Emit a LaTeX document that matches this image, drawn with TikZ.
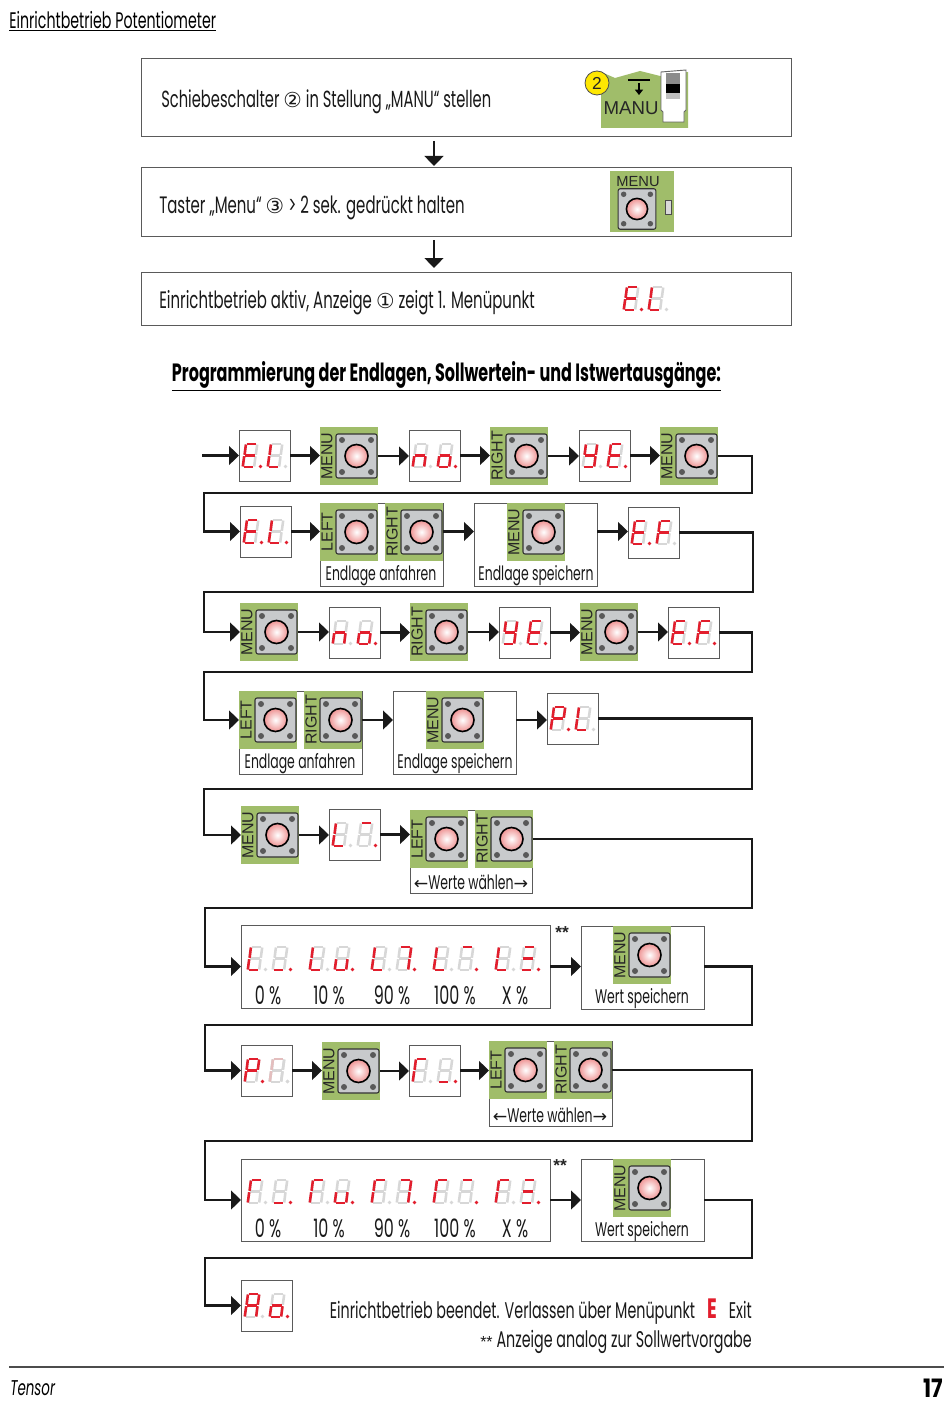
\documentclass[tikz,border=0pt]{standalone}
\usepackage{fontspec}
\setmainfont[FakeStretch=0.63,AutoFakeBold=0.5]{Poppins}[BoldFont={*}]
\newfontfamily\headf[FakeStretch=0.64]{Poppins}
\newfontfamily\pagef[FakeStretch=0.85]{Poppins}
\newfontfamily\arialf{Liberation Sans}
\newfontfamily\symf{DejaVu Sans}
\usetikzlibrary{arrows.meta}
\definecolor{pcbgreen}{RGB}{160,189,106}
\definecolor{btngray}{RGB}{200,202,204}
\definecolor{segred}{RGB}{226,30,45}
\definecolor{segpale}{RGB}{228,190,190}
\definecolor{seggray}{RGB}{215,215,215}
\definecolor{framecol}{RGB}{90,90,90}
\definecolor{ledpink}{RGB}{232,105,105}
\tikzset{
  x=0.75pt,y=-0.75pt,
  framebox/.style={draw=framecol,line width=0.75pt,fill=white,inner sep=0pt,outer sep=0pt},
  greenbox/.style={fill=pcbgreen,inner sep=0pt,outer sep=0pt,minimum width=43.5pt,minimum height=43.5pt},
  conn/.style={draw=black!90,line width=1.9pt,-{Triangle[length=7.5pt,width=14pt]}},
  segstroke/.style={draw=seggray},
  capt/.style={font=\fontsize{14.8pt}{18pt}\selectfont,inner sep=0pt,text=black!90,yshift=-1.5pt},
  pct/.style={font=\fontsize{19pt}{22pt}\selectfont,inner sep=0pt,text=black!90,yshift=-1pt},
  bodytxt/.style={font=\fontsize{17.5pt}{20pt}\selectfont,inner sep=0pt,anchor=west,text=black!90,yshift=-2pt},
  lab/.style={font=\arialf\fontsize{12pt}{14pt}\selectfont,inner sep=0pt,text=black!85}
}
\newcommand\circsym[1]{{\symf\fontsize{15.5pt}{15pt}\selectfont #1}}
\newcommand\arrsym[1]{{\symf\fontsize{13pt}{15pt}\selectfont #1}}
% seven segments, one full draw command per segment
\newcommand\segA{\path[segstroke] (3.7,-23) -- (13.3,-23);}
\newcommand\segB{\path[segstroke] (14.2,-22.5) -- (12.8,-12.2);}
\newcommand\segC{\path[segstroke] (12.5,-10.8) -- (11.2,-0.5);}
\newcommand\segD{\path[segstroke] (0.7,0) -- (10.3,0);}
\newcommand\segE{\path[segstroke] (-0.2,-0.5) -- (1.2,-10.8);}
\newcommand\segF{\path[segstroke] (1.6,-12.2) -- (2.9,-22.5);}
\newcommand\segG{\path[segstroke] (2.2,-11.5) -- (11.8,-11.5);}
\newcommand\segN{}
\newcommand\segoncol{segred}
\newcommand\onedigit[4]{%
  \begin{scope}[shift={(#1,#2)},line width=1.9pt]
    \segA\segB\segC\segD\segE\segF\segG
    \tikzset{segstroke/.style={draw=\segoncol}}
    \foreach \s in {#3}{\csname seg\s\endcsname}
    \fill[#4] (17.5,-0.5) circle[radius=1.9];
  \end{scope}}
% x, baseline y, segments first digit, first dot, segments second digit, second dot
\newcommand\disp[6]{\onedigit{#1}{#2}{#3}{#4}\onedigit{\numexpr#1+25\relax}{#2}{#5}{#6}}
% named frame from two corners
\newcommand\frm[5]{%
  \pgfmathsetmacro\wdt{(#4-#2)*0.75}\pgfmathsetmacro\hgt{(#5-#3)*0.75}%
  \node[framebox,minimum width=\wdt pt,minimum height=\hgt pt] (#1) at ({(#2+#4)/2},{(#3+#5)/2}) {};}
% display in own frame
\newcommand\dispbox[8]{\frm{#1}{#2}{#3}{\numexpr#2+51\relax}{\numexpr#3+51\relax}%
  \disp{\numexpr#2+4\relax}{\numexpr#3+37\relax}{#4}{#5}{#6}{#7}}
% push button graphic, centre
\newcommand\pushbtn[2]{%
  \fill[btngray,draw=black!80,line width=0.8pt,rounded corners=1.5pt] (#1-20.5,#2-22) rectangle (#1+20.5,#2+22);
  \foreach \dx/\dy in {-14.5/-16,14.5/-16,-14.5/16,14.5/16}
    \fill[black!65] (#1+\dx,#2+\dy) circle[radius=3];
  \begin{scope}
    \clip (#1,#2) circle[radius=11];
    \shade[inner color=white,outer color=ledpink] (#1,#2) circle[radius=16];
  \end{scope}
  \draw[black,line width=1.2pt] (#1,#2) circle[radius=11.5];}
% green tile: name, left, top, label
\newcommand\btn[4]{%
  \node[greenbox] (#1) at (#2+29,#3+29) {};
  \node[lab,rotate=90] at (#2+7,#3+29) {#4};
  \pushbtn{#2+36.5}{#3+29}}
\begin{document}
\begin{tikzpicture}
\useasboundingbox[fill=white] (0,0) rectangle (950,1402);

% page header
\node[font=\fontsize{16.9pt}{20pt}\selectfont,anchor=west,inner sep=0pt,yshift=-0.8pt] (title) at (9,20) {\underline{Einrichtbetrieb Potentiometer}};

% intro boxes
\frm{top1}{141}{59}{791}{137}
\node[bodytxt] (t1) at (161,99) {Schiebeschalter \circsym{②} in Stellung „MANU“ stellen};
\fill[pcbgreen] (601,128) -- (601,72) -- (615,78) -- (640,71) -- (660,76) -- (688,72) -- (688,128) -- cycle;
\fill[yellow!90!orange,draw=black!70,line width=0.6pt] (597,83) circle[radius=12];
\node[lab,font=\arialf\fontsize{13pt}{15pt}\selectfont] at (597,83) {2};
\node[lab,font=\arialf\fontsize{14pt}{16pt}\selectfont] at (631,108) {MANU};
\draw[black,line width=0.8pt] (628,80) -- (650,80);
\draw[black,line width=1.4pt,-{Triangle[length=4pt,width=6pt]}] (639,83) -- (639,95);
\fill[white,draw=black!60,line width=0.7pt] (661,72) -- (686,70) -- (686,110) -- (684,112) -- (684,122) -- (663,122) -- (663,112) -- (661,110) -- cycle;
\fill[black!45] (666,73) rectangle (680,84);
\fill[black] (666,84) rectangle (680,93);
\fill[black!25] (666,93) rectangle (680,99);

\frm{top2}{141}{168}{791}{236}
\node[bodytxt,font=\fontsize{17.8pt}{20pt}\selectfont] (t2) at (159,205) {Taster „Menu“ \circsym{③} > 2 sek. gedrückt halten};
\fill[pcbgreen] (610,171) rectangle (674,232);
\node[lab,font=\arialf\fontsize{11pt}{13pt}\selectfont] at (638,182) {MENU};
\begin{scope}[shift={(637,209)},scale=0.92]
\pushbtn{0}{0}
\end{scope}
\fill[black!15,draw=black!70,line width=0.6pt] (665,200) rectangle (671,214);

\frm{top3}{141}{272}{791}{325}
\node[bodytxt,font=\fontsize{17.8pt}{20pt}\selectfont] (t3) at (159,300) {Einrichtbetrieb aktiv, Anzeige \circsym{①} zeigt 1. Menüpunkt};
\disp{624}{310}{A,D,E,F,G}{segred}{D,E,F}{seggray}

\coordinate (va) at (434,141); \coordinate (vb) at (434,166);
\coordinate (vc) at (434,240); \coordinate (vd) at (434,268);
\draw[conn] (va) -- (vb);
\draw[conn] (vc) -- (vd);

\node[font=\headf\bfseries\fontsize{18.75pt}{20pt}\selectfont,inner sep=0pt,yshift=-2.5pt] (head) at (446.5,373) {\underline{Programmierung der Endlagen, Sollwertein- und Istwertausgänge:}};

% row 1
\coordinate (start) at (202,455.5);
\dispbox{a1}{239}{430}{A,D,E,F,G}{segred}{D,E,F}{seggray}{}
\btn{a2}{320}{427}{MENU}
\dispbox{a3}{409}{430}{C,E,G}{seggray}{C,D,E,G}{segred}{}
\btn{a4}{490}{427}{RIGHT}
\dispbox{a5}{579}{430}{B,C,D,F,G}{seggray}{A,D,E,F,G}{segred}{}
\btn{a6}{660}{427}{MENU}
\coordinate (ra) at (752,493); \coordinate (la) at (204,493);
\draw[conn] (start) -- (a1.west);
\draw[conn] (a1.east) -- (a1.east -| a2.west);
\draw[conn] (a2.east) -- (a2.east -| a3.west);
\draw[conn] (a3.east) -- (a3.east -| a4.west);
\draw[conn] (a4.east) -- (a4.east -| a5.west);
\draw[conn] (a5.east) -- (a5.east -| a6.west);

% row 2
\dispbox{b1}{240}{506}{A,D,E,F,G}{segred}{D,E,F}{segred}{}
\frm{b2}{320}{503}{443}{586}
\btn{b2l}{320}{503}{LEFT}
\btn{b2r}{385}{503}{RIGHT}
\node[capt] (b2t) at (381,574) {Endlage anfahren};
\frm{b3}{474}{503}{597}{586}
\btn{b3m}{507}{503}{MENU}
\node[capt] (b3t) at (536,574) {Endlage speichern};
\dispbox{b4}{628}{507}{A,D,E,F,G}{segred}{A,E,F,G}{seggray}{}
\draw[conn] (a6.east) -| (ra) -- (la) |- (b1.west);
\draw[conn] (b1.east) -- (b1.east -| b2.west);
\draw[conn] (b2.east |- b1.east) -- (b1.east -| b3.west);
\draw[conn] (b3.east |- b1.east) -- (b1.east -| b4.west);

% row 3
\btn{c1}{240}{603}{MENU}
\dispbox{c2}{329}{607}{C,E,G}{seggray}{C,D,E,G}{segred}{}
\btn{c3}{410}{603}{RIGHT}
\dispbox{c4}{499}{607}{B,C,D,F,G}{seggray}{A,D,E,F,G}{segred}{}
\btn{c5}{580}{603}{MENU}
\dispbox{c6}{668}{607}{A,D,E,F,G}{segred}{A,E,F,G}{segred}{}
\coordinate (rb) at (753,592); \coordinate (lb) at (204,592);
\draw[conn] (b4.east) -| (rb) -- (lb) |- (c1.west);
\draw[conn] (c1.east) -- (c1.east -| c2.west);
\draw[conn] (c2.east) -- (c2.east -| c3.west);
\draw[conn] (c3.east) -- (c3.east -| c4.west);
\draw[conn] (c4.east) -- (c4.east -| c5.west);
\draw[conn] (c5.east) -- (c5.east -| c6.west);

% row 4
\frm{d1}{239}{691}{362}{774}
\btn{d1l}{239}{691}{LEFT}
\btn{d1r}{304}{691}{RIGHT}
\node[capt] (d1t) at (300,762) {Endlage anfahren};
\frm{d2}{393}{691}{516}{774}
\btn{d2m}{426}{691}{MENU}
\node[capt] (d2t) at (455,762) {Endlage speichern};
\dispbox{d3}{547}{693}{A,B,E,F,G}{segred}{D,E,F}{seggray}{}
\coordinate (rc) at (752,672); \coordinate (lc) at (204,672);
\draw[conn] (c6.east) -| (rc) -- (lc) |- (d1l.west);
\draw[conn] (d1r.east) -- (d1r.east -| d2.west);
\draw[conn] (d2.east |- d1r.east) -- (d1r.east -| d3.west);

% row 5
\btn{e1}{241}{806}{MENU}
\dispbox{e2}{329}{809}{D,E,F}{seggray}{A}{segred}{}
\frm{e3}{410}{810}{532}{893}
\btn{e3l}{410}{810}{LEFT}
\btn{e3r}{475}{810}{RIGHT}
\node[capt] (e3t) at (471,880) {\arrsym{←}Werte wählen\arrsym{→}};
\coordinate (rd) at (752,789); \coordinate (ld) at (204,789);
\draw[conn] (d3.east) -| (rd) -- (ld) |- (e1.west);
\draw[conn] (e1.east) -- (e1.east -| e2.west);
\draw[conn] (e2.east) -- (e2.east -| e3.west);

% row 6
\frm{f1}{241}{925}{550}{1008}
\disp{248}{970}{D,E,F}{seggray}{D}{segred}
\disp{310}{970}{D,E,F}{seggray}{C,D,E}{segred}
\disp{372}{970}{D,E,F}{seggray}{A,B,C}{segred}
\disp{434}{970}{D,E,F}{seggray}{A}{segred}
\disp{496}{970}{D,E,F}{seggray}{A,D,G}{segred}
\node[pct] (f10) at (268,994) {0 \%};
\node[pct] (f11) at (329,994) {10 \%};
\node[pct] (f12) at (392,994) {90 \%};
\node[pct] (f13) at (455,994) {100 \%};
\node[pct] (f14) at (515,994) {X \%};
\node[lab,font=\arialf\bfseries\fontsize{13pt}{14pt}\selectfont] (f1s) at (562,933) {**};
\frm{f2}{581}{926}{704}{1009}
\btn{f2m}{613}{926}{MENU}
\node[capt] (f2t) at (642,997) {Wert speichern};
\coordinate (re) at (752,908); \coordinate (le) at (205,908);
\draw[conn] (e3r.east) -| (re) -- (le) |- (f1.west);
\draw[conn] (f1.east) -- (f1.east -| f2.west);

% row 7
\dispbox{g1}{241}{1045}{A,B,E,F,G}{segred}{N}{seggray}{}
\begin{scope}\renewcommand\segoncol{segpale}
\onedigit{270}{1082}{A,E,F}{seggray}
\end{scope}
\btn{g2}{322}{1042}{MENU}
\dispbox{g3}{409}{1045}{A,E,F}{seggray}{D}{segred}{}
\frm{g4}{489}{1041}{612}{1126}
\btn{g4l}{489}{1041}{LEFT}
\btn{g4r}{554}{1041}{RIGHT}
\node[capt] (g4t) at (550,1113) {\arrsym{←}Werte wählen\arrsym{→}};
\coordinate (rf) at (752,1025); \coordinate (lf) at (205,1025);
\draw[conn] (f2.east |- f1.east) -| (rf) -- (lf) |- (g1.west);
\draw[conn] (g1.east) -- (g1.east -| g2.west);
\draw[conn] (g2.east) -- (g2.east -| g3.west);
\draw[conn] (g3.east) -- (g3.east -| g4.west);

% row 8
\frm{h1}{241}{1159}{550}{1241}
\disp{248}{1203}{A,E,F}{seggray}{D}{segred}
\disp{310}{1203}{A,E,F}{seggray}{C,D,E}{segred}
\disp{372}{1203}{A,E,F}{seggray}{A,B,C}{segred}
\disp{434}{1203}{A,E,F}{seggray}{A}{segred}
\disp{496}{1203}{A,E,F}{seggray}{A,D,G}{segred}
\node[pct] (h10) at (268,1227) {0 \%};
\node[pct] (h11) at (329,1227) {10 \%};
\node[pct] (h12) at (392,1227) {90 \%};
\node[pct] (h13) at (455,1227) {100 \%};
\node[pct] (h14) at (515,1227) {X \%};
\node[lab,font=\arialf\bfseries\fontsize{13pt}{14pt}\selectfont] (h1s) at (560,1166) {**};
\frm{h2}{581}{1159}{704}{1241}
\btn{h2m}{613}{1159}{MENU}
\node[capt] (h2t) at (642,1230) {Wert speichern};
\coordinate (rg) at (752,1141); \coordinate (lg) at (205,1141);
\draw[conn] (g4r.east) -| (rg) -- (lg) |- (h1.west);
\draw[conn] (h1.east) -- (h1.east -| h2.west);

% row 9
\dispbox{i1}{241}{1280}{A,B,C,E,F,G}{seggray}{C,D,E,G}{segred}{}
\coordinate (rh) at (752,1258); \coordinate (lh) at (205,1258);
\draw[conn] (h2.east |- h1.east) -| (rh) -- (lh) |- (i1.west);
\node[bodytxt,anchor=east,font=\fontsize{17pt}{20pt}\selectfont] (i2) at (752,1309) {Einrichtbetrieb beendet. Verlassen über Menüpunkt\hspace{9pt}{\headf\bfseries\fontsize{21pt}{20pt}\selectfont\color{segred}E}\hspace{9pt}Exit};
\node[bodytxt,anchor=east,font=\fontsize{17pt}{20pt}\selectfont] (i3) at (752,1339) {{\arialf\fontsize{12pt}{14pt}\selectfont **} Anzeige analog zur Sollwertvorgabe};

% footer
\coordinate (fa) at (9,1367); \coordinate (fb) at (944,1367);
\draw[black!70,line width=0.8pt] (fa) -- (fb);
\node[font=\itshape\fontsize{16pt}{18pt}\selectfont,anchor=west,inner sep=0pt] (tens) at (10,1388) {Tensor};
\node[font=\pagef\bfseries\fontsize{19pt}{20pt}\selectfont,anchor=east,inner sep=0pt] (pg) at (943,1388) {17};
\end{tikzpicture}
\end{document}
